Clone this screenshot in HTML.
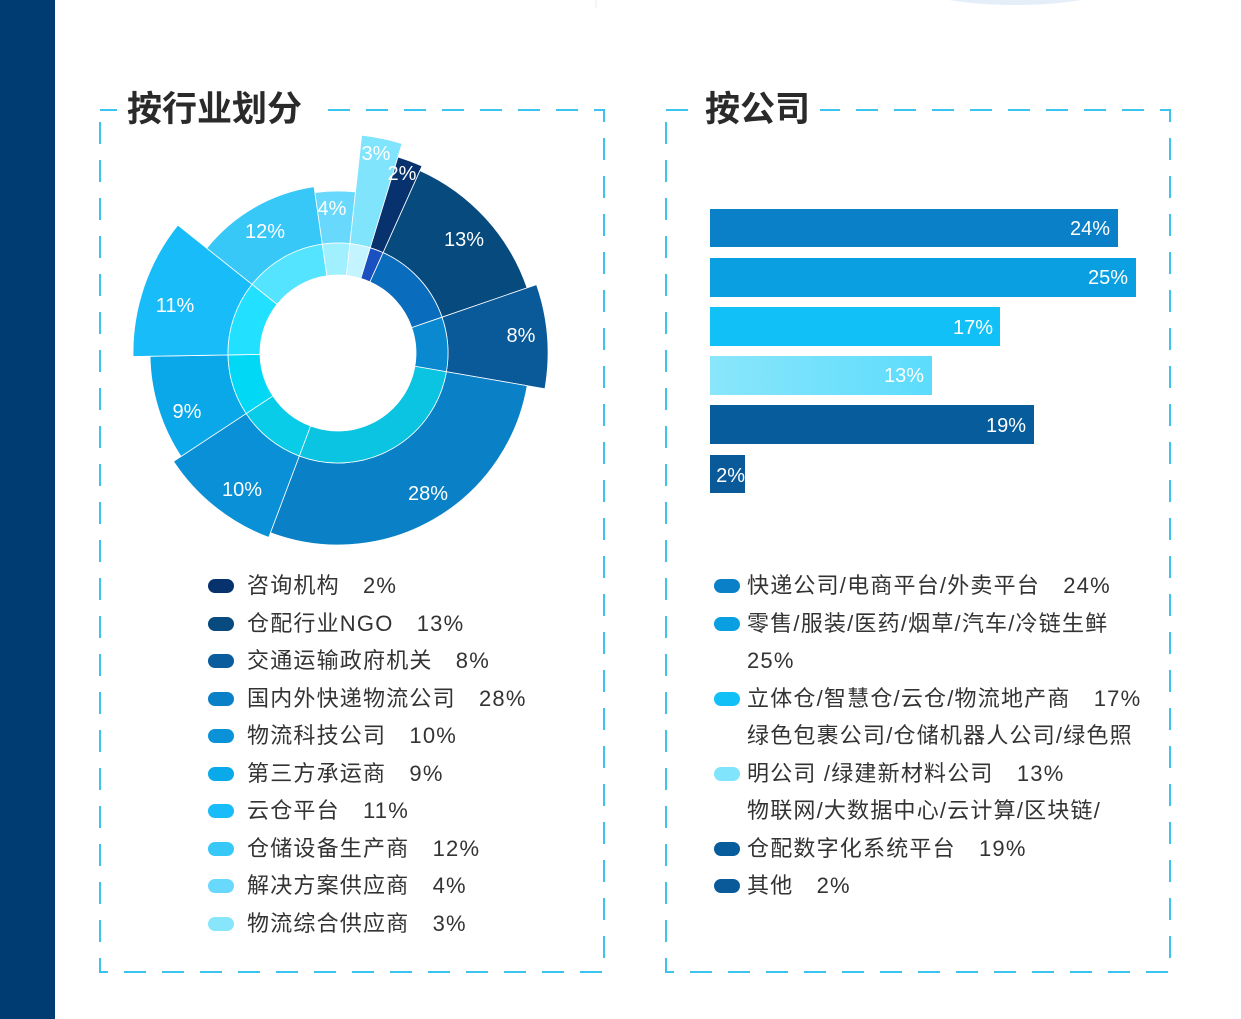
<!DOCTYPE html>
<html><head><meta charset="utf-8">
<style>
body{margin:0;width:1241px;height:1019px;background:#fff;position:relative;overflow:hidden;font-family:"Liberation Sans","Noto Sans CJK SC",sans-serif;}
.side{position:absolute;left:0;top:0;width:55px;height:1019px;background:#003b71;}
.t{position:absolute;font-size:35px;font-weight:bold;color:#2a2a2a;line-height:40px;background:#fff;padding:0 10px;}
.leg{position:absolute;font-size:22px;color:#333;line-height:37.5px;white-space:nowrap;letter-spacing:1.2px;}
.leg div{position:relative;padding-left:39px;height:37.5px;}
.leg .m{position:absolute;left:0;top:12px;width:26px;height:14px;border-radius:7px;}
.leg2 div{padding-left:33px;}
</style></head><body>
<div class="side"></div>
<svg width="1241" height="1019" style="position:absolute;left:0;top:0">
<ellipse cx="1015" cy="-20" rx="110" ry="25" fill="#e3eef9"/>
<line x1="596" y1="0" x2="596" y2="8" stroke="#eee"/>
<g fill="none" stroke="#3cc4f0" stroke-width="2" stroke-dasharray="22 16">
<rect x="100" y="110" width="504" height="862"/>
<rect x="666" y="110" width="504" height="862"/>
</g>
<g id="pie"></g>
<defs><linearGradient id="g13" x1="0" x2="1"><stop offset="0" stop-color="#8ae6fb"/><stop offset="1" stop-color="#5cdcfc"/></linearGradient></defs>
<rect x="710" y="209" width="408" height="38" fill="#0a80c8"/>
<rect x="710" y="258" width="426" height="39" fill="#0a9fe0"/>
<rect x="710" y="307" width="290" height="39" fill="#12c0f8"/>
<rect x="710" y="356" width="222" height="39" fill="url(#g13)"/>
<rect x="710" y="405" width="324" height="39" fill="#075c9c"/>
<rect x="710" y="455" width="35" height="38" fill="#0a5a9a"/>
<g fill="#fff" font-size="20" text-anchor="end" font-family="Liberation Sans,sans-serif">
<text x="1110" y="235">24%</text><text x="1128" y="284">25%</text><text x="993" y="334">17%</text>
<text x="924" y="382">13%</text><text x="1026" y="432">19%</text><text x="745" y="482">2%</text>
</g>
</svg>
<div class="t" style="left:117px;top:90px">按行业划分</div>
<div class="t" style="left:695px;top:90px">按公司</div>
<div class="leg" style="left:208px;top:567px">
<div><span class="m" style="background:#08326e"></span>咨询机构　2%</div>
<div><span class="m" style="background:#064a7e"></span>仓配行业NGO　13%</div>
<div><span class="m" style="background:#0a5c9c"></span>交通运输政府机关　8%</div>
<div><span class="m" style="background:#0a80c6"></span>国内外快递物流公司　28%</div>
<div><span class="m" style="background:#0a92d8"></span>物流科技公司　10%</div>
<div><span class="m" style="background:#0aaaea"></span>第三方承运商　9%</div>
<div><span class="m" style="background:#18bcf8"></span>云仓平台　11%</div>
<div><span class="m" style="background:#38c8f8"></span>仓储设备生产商　12%</div>
<div><span class="m" style="background:#68d8fc"></span>解决方案供应商　4%</div>
<div><span class="m" style="background:#88e6fc"></span>物流综合供应商　3%</div>
</div>
<div class="leg leg2" style="left:714px;top:567px">
<div><span class="m" style="background:#0a80c8"></span>快递公司/电商平台/外卖平台　24%</div>
<div><span class="m" style="background:#0a9fe0"></span>零售/服装/医药/烟草/汽车/冷链生鲜</div>
<div>25%</div>
<div><span class="m" style="background:#12c0f8"></span>立体仓/智慧仓/云仓/物流地产商　17%</div>
<div>绿色包裹公司/仓储机器人公司/绿色照</div>
<div><span class="m" style="background:#80e4fc"></span>明公司 /绿建新材料公司　13%</div>
<div>物联网/大数据中心/云计算/区块链/</div>
<div><span class="m" style="background:#075c9c"></span>仓配数字化系统平台　19%</div>
<div><span class="m" style="background:#0a5a9a"></span>其他　2%</div>
</div>
<script>
var cx=338,cy=353,r0=78,r1=110;
var d=[[2,205,"#08326e","#1a50c0"],[13,200,"#064a7e","#0a6cbd"],[8,210,"#0a5a9a","#0a88d0"],[28,192,"#0a80c6","#0ac4e2"],[10,197,"#0a90d6","#08cce8"],[9,188,"#0aa8e8","#00d8f5"],[11,205,"#18bcf8","#22e0ff"],[12,168,"#38c8f8","#55e4ff"],[4,162,"#68d8fc","#a0f0ff"],[3,219,"#80e4fc","#c4f4ff"]];
var pos=[[0,0],[464,246],[521,342],[428,500],[242,496],[187,418],[175,312],[265,238],[332,215],[376,160]];
function p(a,r){var t=a*Math.PI/180;return [cx+r*Math.sin(t),cy-r*Math.cos(t)];}
function arc(a,b,ri,ro,c){var A=p(a,ro),B=p(b,ro),C=p(b,ri),D=p(a,ri),l=(b-a)>180?1:0;
return '<path d="M'+A+' A'+ro+','+ro+' 0 '+l+' 1 '+B+' L'+C+' A'+ri+','+ri+' 0 '+l+' 0 '+D+'Z" fill="'+c+'" stroke="#fff" stroke-width="0.8"/>';}
var s='',a=17,lab='';
d.forEach(function(x,i){var b=a+x[0]*3.6;s+=arc(a,b,r1,x[1],x[2]);s+=arc(a,b,r0,r1,x[3]);
var q=i==0?[402,180]:pos[i];lab+='<text x="'+q[0]+'" y="'+q[1]+'" fill="#fff" font-size="20" text-anchor="middle" font-family="Liberation Sans,sans-serif">'+x[0]+'%</text>';a=b;});
document.getElementById('pie').innerHTML=s+lab;
</script>
</body></html>
